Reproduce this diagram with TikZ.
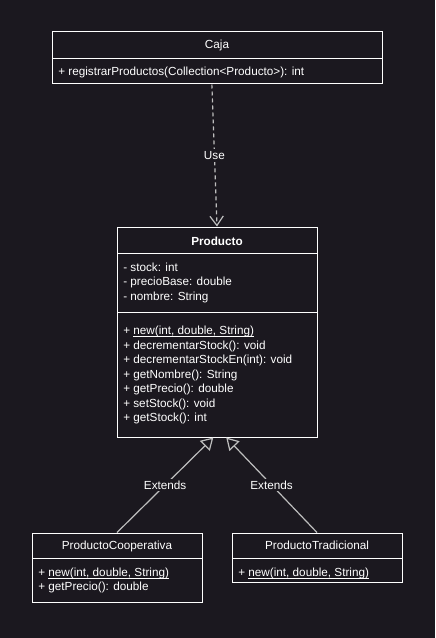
\documentclass[tikz,border=0pt]{standalone}
\usepackage{fontspec}
\setmainfont{Liberation Sans}
\usepackage{xcolor}
\usetikzlibrary{arrows.meta}

\definecolor{bgcol}{RGB}{27,24,31}
\definecolor{relcol}{RGB}{190,190,190}

\newcommand{\ulop}[1]{\underline{\smash{#1}}}

\tikzset{
  umlbox/.style={draw=white, line width=0.75pt, inner sep=0pt},
  umltext/.style={text=white, inner sep=0pt, font=\fontsize{8.8}{10}\selectfont},
  rel/.style={draw=relcol, line width=0.9pt},
  rellabel/.style={umltext, fill=bgcol, inner sep=1.5pt}
}

\begin{document}
\begin{tikzpicture}[x=0.75pt,y=0.75pt,yscale=-1,xscale=1]

\fill[bgcol] (0,0) rectangle (435,638);

% class boxes
\node (caja) [umlbox, minimum width=247.5pt, minimum height=39pt] at (217,58) {};

\node (producto) [umlbox, minimum width=150pt, minimum height=157.5pt] at (217,332) {};

\node (coop) [umlbox, minimum width=127.5pt, minimum height=51.75pt] at (117,567.5) {};

\node (trad) [umlbox, minimum width=127.5pt, minimum height=36.75pt] at (317,557.5) {};

% compartments
\draw [white, line width=0.75pt] (52,58.3) -- (382,58.3) ;

\draw [white, line width=0.75pt] (117,253.3) -- (317,253.3) ;

\draw [white, line width=0.75pt] (117,312.3) -- (317,312.3) ;

\draw [white, line width=0.75pt] (32,558.3) -- (202,558.3) ;

\draw [white, line width=0.75pt] (232,558.3) -- (402,558.3) ;

% Caja
\draw (217,49) node (cajaname) [umltext, anchor=base] {Caja};

\draw (58,76) node (cajaop) [umltext, anchor=base west] {+ registrarProductos(Collection<Producto>): int};

% Producto
\draw (217,245) node (prodname) [umltext, anchor=base] {\bfseries Producto};

\draw (123,271) node (prodattra) [umltext, anchor=base west] {- stock: int};

\draw (123,285.5) node (prodattrb) [umltext, anchor=base west] {- precioBase: double};

\draw (123,300) node (prodattrc) [umltext, anchor=base west] {- nombre: String};

\draw (123,334.5) node (prodopa) [umltext, anchor=base west] {+ \ulop{new(int, double, String)}};

\draw (123,349) node (prodopb) [umltext, anchor=base west] {+ decrementarStock(): void};

\draw (123,363.5) node (prodopc) [umltext, anchor=base west] {+ decrementarStockEn(int): void};

\draw (123,378) node (prodopd) [umltext, anchor=base west] {+ getNombre(): String};

\draw (123,392.5) node (prodope) [umltext, anchor=base west] {+ getPrecio(): double};

\draw (123,407) node (prodopf) [umltext, anchor=base west] {+ setStock(): void};

\draw (123,421.5) node (prodopg) [umltext, anchor=base west] {+ getStock(): int};

% ProductoCooperativa
\draw (117,549) node (coopname) [umltext, anchor=base] {ProductoCooperativa};

\draw (38,576) node (coopopa) [umltext, anchor=base west] {+ \ulop{new(int, double, String)}};

\draw (38,590) node (coopopb) [umltext, anchor=base west] {+ getPrecio(): double};

% ProductoTradicional
\draw (317,549) node (tradname) [umltext, anchor=base] {ProductoTradicional};

\draw (238,576) node (tradopa) [umltext, anchor=base west] {+ \ulop{new(int, double, String)}};

% relations
\draw [rel, dash pattern=on 3pt off 2.25pt, -{Straight Barb[length=7pt, width=10pt]}] (caja.259) -- node (use) [rellabel] {Use} (producto.north) ;

\draw [rel, -{Triangle[open, length=9pt, width=10.5pt]}] (coop.north) -- node (extcoop) [rellabel] {Extends} (producto.268) ;

\draw [rel, -{Triangle[open, length=9pt, width=10.5pt]}] (trad.north) -- node (exttrad) [rellabel] {Extends} (producto.275) ;

\end{tikzpicture}
\end{document}
